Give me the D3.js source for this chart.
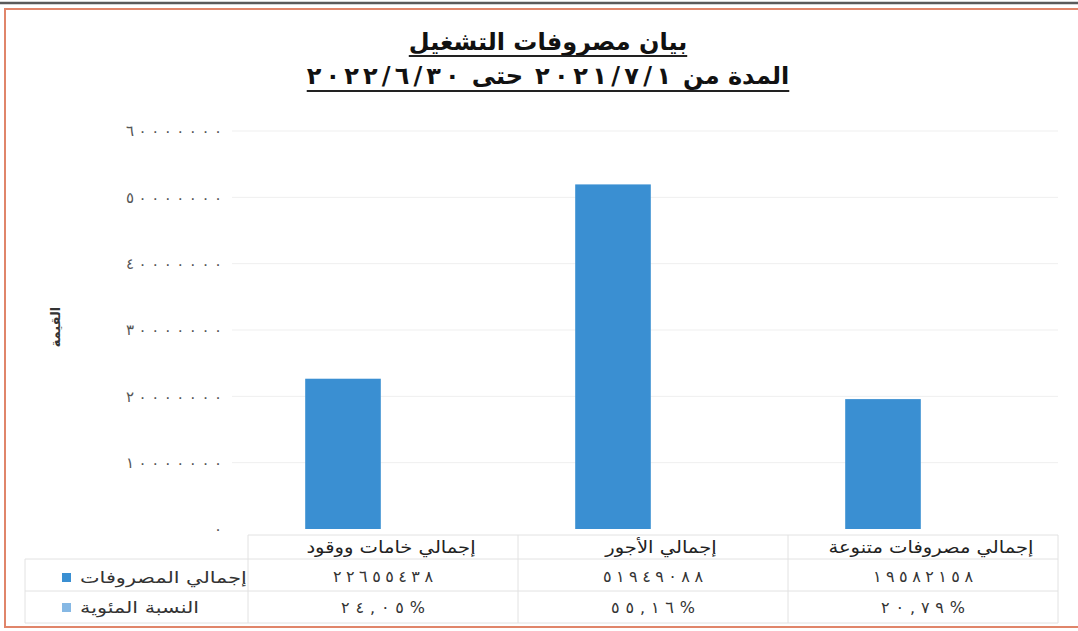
<!DOCTYPE html>
<html>
<head>
<meta charset="utf-8">
<script src="https://cdn.jsdelivr.net/npm/d3@7"></script>
<style>
  body { margin: 0; background: #fff; }
  svg { display: block; font-family: "DejaVu Sans", sans-serif; }
</style>
</head>
<body>
<div id="chart"></div>
<script>
const categories = ["إجمالي خامات ووقود", "إجمالي الأجور", "إجمالي مصروفات متنوعة"];
const totals = [22655438, 51949088, 19582158];
const totalLabels = ["٢٢٦٥٥٤٣٨", "٥١٩٤٩٠٨٨", "١٩٥٨٢١٥٨"];
const percentLabels = ["٢٤,٠٥%", "٥٥,١٦%", "٢٠,٧٩%"];
const seriesNames = ["إجمالي المصروفات", "النسبة المئوية"];
const yTicks = [0, 10000000, 20000000, 30000000, 40000000, 50000000, 60000000];
const title1 = "بيان مصروفات التشغيل";
// second title line, in reading order (right to left)
const title2Parts = ["المدة من", "٢٠٢١/٧/١", "حتى", "٢٠٢٢/٦/٣٠"];
const yTitle = "القيمة";

const BAR = "#3a8fd2";
const BAR_LIGHT = "#86b8e4";
const W = 1078, H = 631;

// arabic-indic digits for the tick labels
let arDigits = s => s.replace(/[0-9]/g, d => "٠١٢٣٤٥٦٧٨٩"[+d]);

let svg = d3.select("#chart").append("svg")
    .attr("width", W)
    .attr("height", H);

// scan frame
svg.append("line")
    .attr("x1", 0).attr("x2", W)
    .attr("y1", 3).attr("y2", 3)
    .attr("stroke", "#5a5a5a")
    .attr("stroke-width", 2.5);
svg.append("rect")
    .attr("x", 5).attr("y", 9)
    .attr("width", W + 10).attr("height", 618)
    .attr("fill", "none")
    .attr("stroke", "#e0856a")
    .attr("stroke-width", 2);

let y = d3.scaleLinear()
    .domain([0, 60000000])
    .range([529, 131]);

// table columns and bar slots
let xCol = d3.scaleBand().domain(categories).range([248, 1058]);
let xBar = d3.scaleBand().domain(categories).range([208, 1018]);
let barW = xBar.step() * 0.28;

// grid
svg.append("g")
    .selectAll("line")
    .data(yTicks.slice(1))
    .join("line")
    .attr("x1", 232).attr("x2", 1058)
    .attr("y1", d => y(d)).attr("y2", d => y(d))
    .attr("stroke", "#efefef")
    .attr("stroke-width", 1);

// y axis labels (digits are spread out like the scan)
let yAxis = svg.append("g")
    .attr("transform", "translate(222,0)")
    .call(d3.axisLeft(y).tickValues(yTicks).tickSize(0).tickPadding(0)
        .tickFormat(d => arDigits(String(d))));
yAxis.select(".domain").remove();
yAxis.selectAll("text")
    .attr("font-family", "DejaVu Sans")
    .attr("font-size", 15)
    .attr("fill", "#555")
    .each(function() {
        let n = this.textContent.length;
        if (n > 1) d3.select(this)
            .attr("textLength", n * 12)
            .attr("lengthAdjust", "spacing");
    });

svg.append("text")
    .attr("transform", "translate(60,327) rotate(-90)")
    .attr("text-anchor", "middle")
    .attr("direction", "rtl")
    .style("font-size", "13px")
    .style("font-weight", "bold")
    .attr("fill", "#333")
    .text(yTitle);

// bars
svg.append("g")
    .selectAll("rect")
    .data(totals)
    .join("rect")
    .attr("x", (d, i) => xBar(categories[i]) + xBar.bandwidth() / 2 - barW / 2)
    .attr("width", barW)
    .attr("y", d => y(d))
    .attr("height", d => y(0) - y(d))
    .attr("fill", BAR);

// data table
let rows = [535, 559, 591, 623];
let grid = svg.append("g").attr("stroke", "#e2e2e2").attr("stroke-width", 1);
rows.forEach((ry, i) => {
    grid.append("line")
        .attr("x1", i === 0 ? 248 : 25).attr("x2", 1058)
        .attr("y1", ry).attr("y2", ry);
});
categories.concat([null]).forEach(c => {
    let xx = c === null ? 1058 : xCol(c);
    grid.append("line")
        .attr("x1", xx).attr("x2", xx)
        .attr("y1", 535).attr("y2", 623);
});
grid.append("line")
    .attr("x1", 25).attr("x2", 25)
    .attr("y1", 559).attr("y2", 623);

let colCenter = c => xCol(c) + xCol.bandwidth() / 2;

svg.append("g")
    .selectAll("text")
    .data(categories)
    .join("text")
    .attr("transform", d => `translate(${colCenter(d) + 8},553) scale(1.15,1)`)
    .attr("text-anchor", "middle")
    .attr("direction", "rtl")
    .style("font-size", "17px")
    .attr("fill", "#222")
    .text(d => d);

svg.append("g")
    .selectAll("text")
    .data(totalLabels)
    .join("text")
    .attr("x", (d, i) => colCenter(categories[i]))
    .attr("y", 582)
    .attr("text-anchor", "middle")
    .attr("font-size", 16)
    .attr("textLength", d => d.length * 12.5)
    .attr("lengthAdjust", "spacing")
    .attr("fill", "#333")
    .text(d => d);

svg.append("g")
    .selectAll("text")
    .data(percentLabels)
    .join("text")
    .attr("x", (d, i) => colCenter(categories[i]))
    .attr("y", 613)
    .attr("text-anchor", "middle")
    .attr("font-size", 16)
    .attr("textLength", d => d.length * 14)
    .attr("lengthAdjust", "spacing")
    .attr("fill", "#333")
    .text(d => d);

// legend keys in the table
let legend = svg.append("g")
    .selectAll("g")
    .data(seriesNames)
    .join("g")
    .attr("transform", (d, i) => `translate(0,${i === 0 ? 578 : 608})`);
legend.append("rect")
    .attr("x", 62).attr("y", -5)
    .attr("width", 9).attr("height", 9)
    .attr("fill", (d, i) => i === 0 ? BAR : BAR_LIGHT);
legend.append("text")
    .attr("transform", "translate(80,5) scale(1.3,1)")
    .attr("text-anchor", "start")
    .style("font-size", "16px")
    .attr("fill", "#333")
    .text(d => d);

// titles
let t1 = svg.append("text")
    .attr("x", 548).attr("y", 50)
    .attr("text-anchor", "middle")
    .attr("direction", "rtl")
    .style("font-size", "24px")
    .style("font-weight", "bold")
    .attr("fill", "#111")
    .text(title1);
let b1 = t1.node().getBBox();
svg.append("line")
    .attr("x1", b1.x).attr("x2", b1.x + b1.width)
    .attr("y1", 56).attr("y2", 56)
    .attr("stroke", "#222")
    .attr("stroke-width", 2);

// line 2 is set piece by piece, right to left, so the dates can be spread out
let t2 = svg.append("g");
let parts = t2.selectAll("text")
    .data(title2Parts)
    .join("text")
    .attr("y", 84)
    .attr("text-anchor", "end")
    .style("font-size", "24px")
    .style("font-weight", "bold")
    .attr("fill", "#111")
    .text(d => d);
parts.filter((d, i) => i % 2 === 1)
    .attr("textLength", d => d.length * 17)
    .attr("lengthAdjust", "spacing");
let gap = 12;
let widths = parts.nodes().map((n, i) => i % 2 ? n.textContent.length * 17 : n.getComputedTextLength());
let total = d3.sum(widths) + gap * (widths.length - 1);
let right = 548 + total / 2;
parts.attr("x", (d, i) => right - d3.sum(widths.slice(0, i)) - gap * i);
svg.append("line")
    .attr("x1", right - total).attr("x2", right)
    .attr("y1", 91).attr("y2", 91)
    .attr("stroke", "#222")
    .attr("stroke-width", 2);
</script>
</body>
</html>
